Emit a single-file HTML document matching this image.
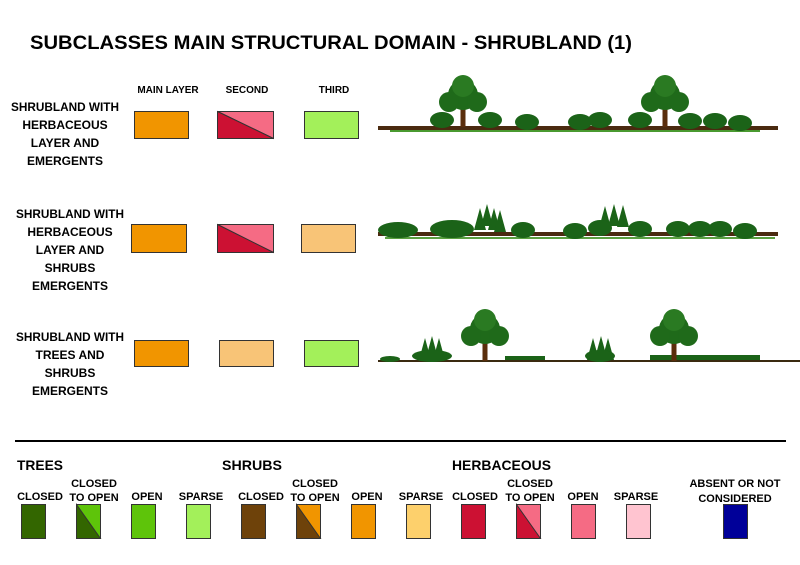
<!DOCTYPE html>
<html><head><meta charset="utf-8"><style>
html,body{margin:0;padding:0;background:#fff}
svg{display:block}
text{font-family:"Liberation Sans",sans-serif;font-weight:bold;fill:#000}
</style></head><body>
<svg width="800" height="565" viewBox="0 0 800 565" xmlns="http://www.w3.org/2000/svg">
<defs>
<g id="tree"><rect x="-2.5" y="-4" width="5" height="26" fill="#5a2e0c"/><circle cx="0" cy="-10" r="15" fill="#1f6a1a"/><circle cx="-14" cy="-3" r="10" fill="#1f6a1a"/><circle cx="14" cy="-3" r="10" fill="#1f6a1a"/><circle cx="0" cy="-19" r="11" fill="#2a7a22"/></g>
<g id="bush"><ellipse cx="0" cy="0" rx="12" ry="8" fill="#1b6318"/></g>
<g id="con"><polygon points="0,-22 6,0 -6,0" fill="#1b6318"/></g>
</defs>
<text x="30" y="49" font-size="19" textLength="602" lengthAdjust="spacingAndGlyphs">SUBCLASSES MAIN STRUCTURAL DOMAIN - SHRUBLAND (1)</text>
<g font-size="10" text-anchor="middle">
<text x="168" y="93">MAIN LAYER</text><text x="247" y="93">SECOND</text><text x="334" y="93">THIRD</text>
</g>
<g font-size="12" text-anchor="middle">
<text x="65" y="111" textLength="108" lengthAdjust="spacingAndGlyphs">SHRUBLAND WITH</text><text x="65" y="129">HERBACEOUS</text><text x="65" y="147">LAYER AND</text><text x="65" y="165">EMERGENTS</text>
<text x="70" y="218" textLength="108" lengthAdjust="spacingAndGlyphs">SHRUBLAND WITH</text><text x="70" y="236">HERBACEOUS</text><text x="70" y="254">LAYER AND</text><text x="70" y="272">SHRUBS</text><text x="70" y="290">EMERGENTS</text>
<text x="70" y="341" textLength="108" lengthAdjust="spacingAndGlyphs">SHRUBLAND WITH</text><text x="70" y="359">TREES AND</text><text x="70" y="377">SHRUBS</text><text x="70" y="395">EMERGENTS</text>
</g>
<g stroke="#333" stroke-width="1">
<rect x="134.5" y="111.5" width="54" height="27" fill="#f19500"/>
<polygon points="217.5,111.5 273.5,111.5 273.5,138.5" fill="#f56b84"/><polygon points="217.5,111.5 273.5,138.5 217.5,138.5" fill="#cc1133"/><rect x="217.5" y="111.5" width="56" height="27" fill="none"/>
<rect x="304.5" y="111.5" width="54" height="27" fill="#a3f05a"/>
<rect x="131.5" y="224.5" width="55" height="28" fill="#f19500"/>
<polygon points="217.5,224.5 273.5,224.5 273.5,252.5" fill="#f56b84"/><polygon points="217.5,224.5 273.5,252.5 217.5,252.5" fill="#cc1133"/><rect x="217.5" y="224.5" width="56" height="28" fill="none"/>
<rect x="301.5" y="224.5" width="54" height="28" fill="#f8c477"/>
<rect x="134.5" y="340.5" width="54" height="26" fill="#f19500"/>
<rect x="219.5" y="340.5" width="54" height="26" fill="#f8c477"/>
<rect x="304.5" y="340.5" width="54" height="26" fill="#a3f05a"/>
</g>
<rect x="378" y="126" width="400" height="4" fill="#4a2a10"/>
<rect x="390" y="130" width="370" height="2" fill="#4a9a30"/>
<use href="#bush" x="442" y="120"/><use href="#bush" x="490" y="120"/><use href="#bush" x="527" y="122"/>
<use href="#bush" x="580" y="122"/><use href="#bush" x="600" y="120"/><use href="#bush" x="640" y="120"/><use href="#bush" x="690" y="121"/><use href="#bush" x="715" y="121"/><use href="#bush" x="740" y="123"/>
<use href="#tree" x="463" y="105"/><use href="#tree" x="665" y="105"/>
<rect x="378" y="232" width="400" height="4" fill="#4a2a10"/>
<rect x="385" y="237" width="390" height="2" fill="#5aa040"/>
<ellipse cx="398" cy="230" rx="20" ry="8" fill="#1b6318"/><ellipse cx="452" cy="229" rx="22" ry="9" fill="#1b6318"/>
<use href="#con" x="480" y="230"/><use href="#con" x="487" y="226"/><use href="#con" x="494" y="230"/><use href="#con" x="500" y="232"/>
<use href="#bush" x="523" y="230"/><use href="#bush" x="575" y="231"/>
<use href="#con" x="605" y="228"/><use href="#con" x="614" y="226"/><use href="#con" x="623" y="227"/><use href="#bush" x="600" y="228"/><use href="#bush" x="640" y="229"/>
<use href="#bush" x="678" y="229"/><use href="#bush" x="700" y="229"/><use href="#bush" x="720" y="229"/><use href="#bush" x="745" y="231"/>
<rect x="378" y="360" width="425" height="2" fill="#3a2a10"/>
<ellipse cx="390" cy="359" rx="10" ry="3" fill="#1b6318"/>
<use href="#con" x="425" y="360"/><use href="#con" x="432" y="358"/><use href="#con" x="439" y="360"/><ellipse cx="432" cy="356" rx="20" ry="6" fill="#1b6318"/>
<rect x="505" y="356" width="40" height="4" fill="#1b6318"/>
<use href="#con" x="593" y="360"/><use href="#con" x="601" y="358"/><use href="#con" x="608" y="360"/><ellipse cx="600" cy="356" rx="15" ry="6" fill="#1b6318"/>
<rect x="650" y="355" width="110" height="5" fill="#1b6318"/>
<use href="#tree" x="485" y="339"/><use href="#tree" x="674" y="339"/>
<rect x="15" y="440" width="771" height="2" fill="#000"/>
<g font-size="14" font-weight="normal">
<text x="17" y="470" textLength="46" lengthAdjust="spacingAndGlyphs">TREES</text>
<text x="222" y="470" textLength="60" lengthAdjust="spacingAndGlyphs">SHRUBS</text>
<text x="452" y="470" textLength="99" lengthAdjust="spacingAndGlyphs">HERBACEOUS</text>
</g>
<g font-size="11" text-anchor="middle">
<text x="40" y="500">CLOSED</text>
<text x="94" y="487">CLOSED</text><text x="94" y="501">TO OPEN</text>
<text x="147" y="500">OPEN</text><text x="201" y="500">SPARSE</text><text x="261" y="500">CLOSED</text>
<text x="315" y="487">CLOSED</text><text x="315" y="501">TO OPEN</text>
<text x="367" y="500">OPEN</text><text x="421" y="500">SPARSE</text><text x="475" y="500">CLOSED</text>
<text x="530" y="487">CLOSED</text><text x="530" y="501">TO OPEN</text>
<text x="583" y="500">OPEN</text><text x="636" y="500">SPARSE</text>
<text x="735" y="487">ABSENT OR NOT</text><text x="735" y="502">CONSIDERED</text>
</g>
<g stroke="#333" stroke-width="1">
<rect x="21.5" y="504.5" width="24" height="34" fill="#336600"/>
<rect x="76.5" y="504.5" width="24" height="34" fill="#5ec40a"/><polygon points="76.5,504.5 100.5,538.5 76.5,538.5" fill="#336600"/>
<rect x="131.5" y="504.5" width="24" height="34" fill="#5ec40a"/>
<rect x="186.5" y="504.5" width="24" height="34" fill="#a3f05a"/>
<rect x="241.5" y="504.5" width="24" height="34" fill="#6e420a"/>
<rect x="296.5" y="504.5" width="24" height="34" fill="#f19500"/><polygon points="296.5,504.5 320.5,538.5 296.5,538.5" fill="#6e420a"/>
<rect x="351.5" y="504.5" width="24" height="34" fill="#f19500"/>
<rect x="406.5" y="504.5" width="24" height="34" fill="#fdd06c"/>
<rect x="461.5" y="504.5" width="24" height="34" fill="#cc1133"/>
<rect x="516.5" y="504.5" width="24" height="34" fill="#f56b84"/><polygon points="516.5,504.5 540.5,538.5 516.5,538.5" fill="#cc1133"/>
<rect x="571.5" y="504.5" width="24" height="34" fill="#f56b84"/>
<rect x="626.5" y="504.5" width="24" height="34" fill="#ffc4d0"/>
<rect x="723.5" y="504.5" width="24" height="34" fill="#000099"/>
</g>
</svg>
</body></html>
